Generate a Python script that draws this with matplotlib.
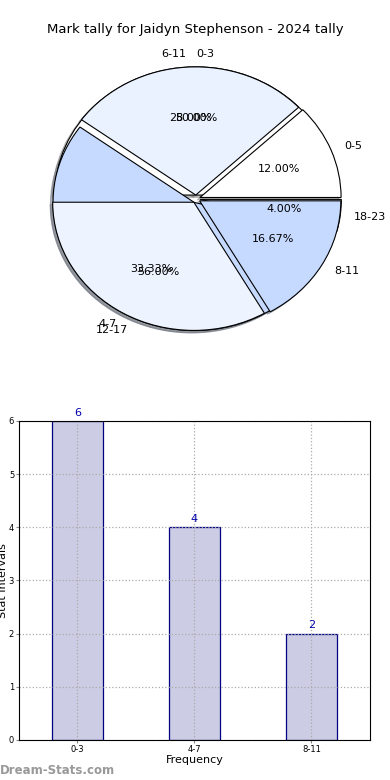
import matplotlib.pyplot as plt
from matplotlib.patches import Shadow

# pie 1: hours of the day
hour_labels = ["0-5", "6-11", "12-17", "18-23"]
hour_values = [12, 28, 56, 4]

# pie 2 / bars: stat intervals
interval_labels = ["0-3", "4-7", "8-11"]
interval_values = [6, 4, 2]

title = "Mark tally for Jaidyn Stephenson - 2024 tally"

fig = plt.figure(figsize=(3.9, 7.8), dpi=100)

# --- pie chart -------------------------------------------------------------
ax1 = fig.add_axes([0.041, 0.533, 0.923, 0.424])
wedge_kw = {"edgecolor": "black", "linewidth": 0.8}
shadow_kw = {"ox": -0.013, "oy": -0.013, "shade": 0.5}

w1, t1, _ = ax1.pie(hour_values, labels=hour_labels, autopct="%.2f%%",
                    colors=["white", "#eaf1ff", "#c6d9ff", "#eaf1ff"],
                    explode=[0.03] * len(hour_values), shadow=shadow_kw,
                    wedgeprops=wedge_kw, textprops={"fontsize": 8})
w2, t2, _ = ax1.pie(interval_values, labels=interval_labels, autopct="%.2f%%",
                    colors=["white", "#edf3ff", "#c6d9ff"],
                    explode=[0.03] * len(interval_values), shadow=shadow_kw,
                    wedgeprops=wedge_kw, textprops={"fontsize": 8})
# shadows at the bottom, then the first wedge of the second pie, then the rest
for p in ax1.patches:
    if isinstance(p, Shadow):
        p.set_zorder(0.5)
w2[0].set_zorder(0.95)
for t in list(t1) + list(t2):
    t.set_ha("left" if t.get_position()[0] > -1e-6 else "right")

ax1.set_aspect("auto")
ax1.set_xlim(-1.275, 1.275)
ax1.set_ylim(-1.29, 1.29)
fig.text(0.5, 1 - 30 / 780, title, ha="center", va="center", fontsize=9.5)

# --- bar chart -------------------------------------------------------------
ax2 = fig.add_axes([0.0487, 0.0513, 0.9, 0.409])
x = range(len(interval_labels))
ax2.bar(x, interval_values, width=0.44, color="#ccccе5".replace("е", "e"),
        edgecolor="#000080", linewidth=0.9, zorder=2)
for xi, v in zip(x, interval_values):
    ax2.text(xi, v + 0.06, str(v), ha="center", va="bottom",
             fontsize=8, color="#0000aa")

ax2.set_xlim(-0.5, 2.5)
ax2.set_ylim(0, 6)
ax2.set_xticks(list(x))
ax2.set_xticklabels(interval_labels)
ax2.tick_params(labelsize=6, length=2, pad=1.5, color="#888888")
ax2.grid(True, linestyle=":", color="#aaaaaa", linewidth=0.9)
ax2.set_axisbelow(False)
for sp in ax2.spines.values():
    sp.set_zorder(3)
ax2.set_xlabel("Frequency", fontsize=8, labelpad=1)
ax2.set_ylabel("Stat Intervals", fontsize=8)
ax2.yaxis.set_label_coords(-0.031, 0.5)

fig.text(0.0, 1 - 771 / 780, "Dream-Stats.com", ha="left", va="center",
         fontsize=8.5, fontweight="bold", color="#999999")

fig.savefig("out.png", dpi=100)
